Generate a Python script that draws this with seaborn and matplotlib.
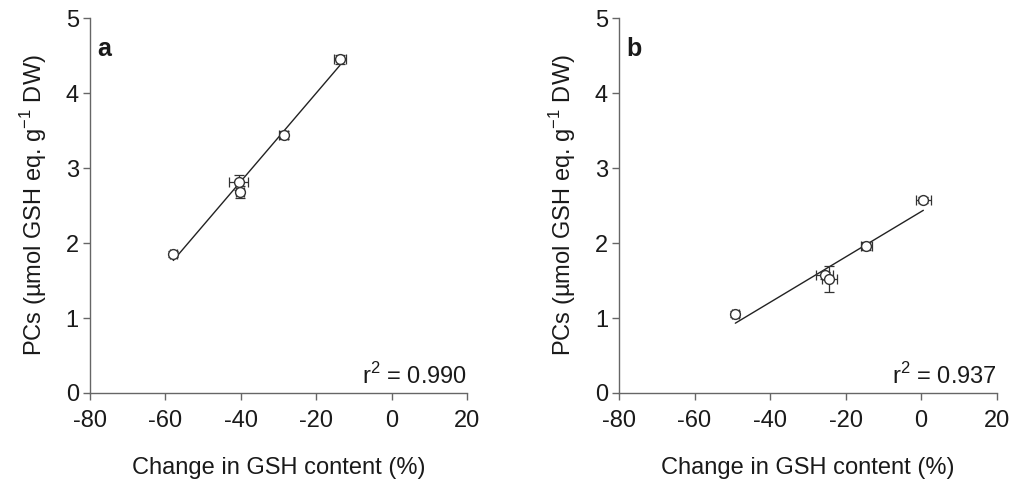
import matplotlib
matplotlib.use("Agg")
import matplotlib.pyplot as plt
import seaborn as sns
import numpy as np
import pandas as pd

# Panel a data
a_x = [-57.9, -40.6, -40.2, -28.6, -13.7]
a_y = [1.85, 2.81, 2.68, 3.44, 4.45]
a_xerr = [1.0, 2.6, 1.0, 1.2, 1.5]
a_yerr = [0.04, 0.10, 0.08, 0.05, 0.06]
a_r2 = "0.990"

# Panel b data
b_x = [-49.2, -25.5, -24.3, -14.5, 0.6]
b_y = [1.06, 1.57, 1.52, 1.96, 2.57]
b_xerr = [0.9, 2.2, 2.0, 1.5, 2.0]
b_yerr = [0.04, 0.05, 0.17, 0.05, 0.04]
b_r2 = "0.937"

x_ticks = [-80, -60, -40, -20, 0, 20]
y_ticks = [0, 1, 2, 3, 4, 5]

sns.set_theme(style="ticks")
plt.rcParams['font.family'] = ['Liberation Sans', 'DejaVu Sans']
plt.rcParams['mathtext.fontset'] = 'custom'
plt.rcParams['mathtext.rm'] = 'Liberation Sans'
plt.rcParams['axes.unicode_minus'] = False

fig = plt.figure(figsize=(10.19, 4.91), dpi=100)
ax_a = fig.add_axes([0.0883, 0.1996, 0.370, 0.7634])
ax_b = fig.add_axes([0.6075, 0.1996, 0.3705, 0.7634])

fs = 17
txt = "#1a1a1a"
for ax, xs, ys, xe, ye, r2, lab in [
    (ax_a, a_x, a_y, a_xerr, a_yerr, a_r2, "a"),
    (ax_b, b_x, b_y, b_xerr, b_yerr, b_r2, "b"),
]:
    df = pd.DataFrame({"x": xs, "y": ys})
    sns.regplot(data=df, x="x", y="y", ax=ax, ci=None, scatter=False,
                line_kws=dict(color="#222222", lw=1.0), truncate=True)
    ax.errorbar(xs, ys, xerr=xe, yerr=ye, fmt="none", ecolor="#333333",
                elinewidth=0.9, capsize=3.5, capthick=0.9, zorder=3)
    sns.scatterplot(data=df, x="x", y="y", ax=ax, s=50, marker="o",
                    facecolor="white", edgecolor="#333333", linewidth=1.0, zorder=4)
    ax.set_xlim(-80, 20)
    ax.set_ylim(0, 5)
    ax.set_xticks(x_ticks)
    ax.set_yticks(y_ticks)
    ax.tick_params(labelsize=fs, length=5, width=1, color="#666666",
                   labelcolor=txt, direction="out")
    ax.tick_params(axis="x", pad=7)
    ax.tick_params(axis="y", pad=3)
    for s in ["top", "right"]:
        ax.spines[s].set_visible(False)
    for s in ["left", "bottom"]:
        ax.spines[s].set_color("#666666")
        ax.spines[s].set_linewidth(1.0)
    ax.set_xlabel("Change in GSH content (%)", fontsize=fs, labelpad=18, color=txt)
    ax.set_ylabel("PCs (µmol GSH eq. g$^{-1}$ DW)", fontsize=fs, labelpad=12, color=txt)
    ax.text(0.02, 0.95, lab, transform=ax.transAxes, fontsize=18, fontweight="bold",
            ha="left", va="top", color=txt)
    ax.text(1.0, 0.01, "r$^2$ = " + r2, transform=ax.transAxes, fontsize=fs,
            ha="right", va="bottom", color=txt)

fig.savefig("out.png", dpi=100, facecolor="white")
